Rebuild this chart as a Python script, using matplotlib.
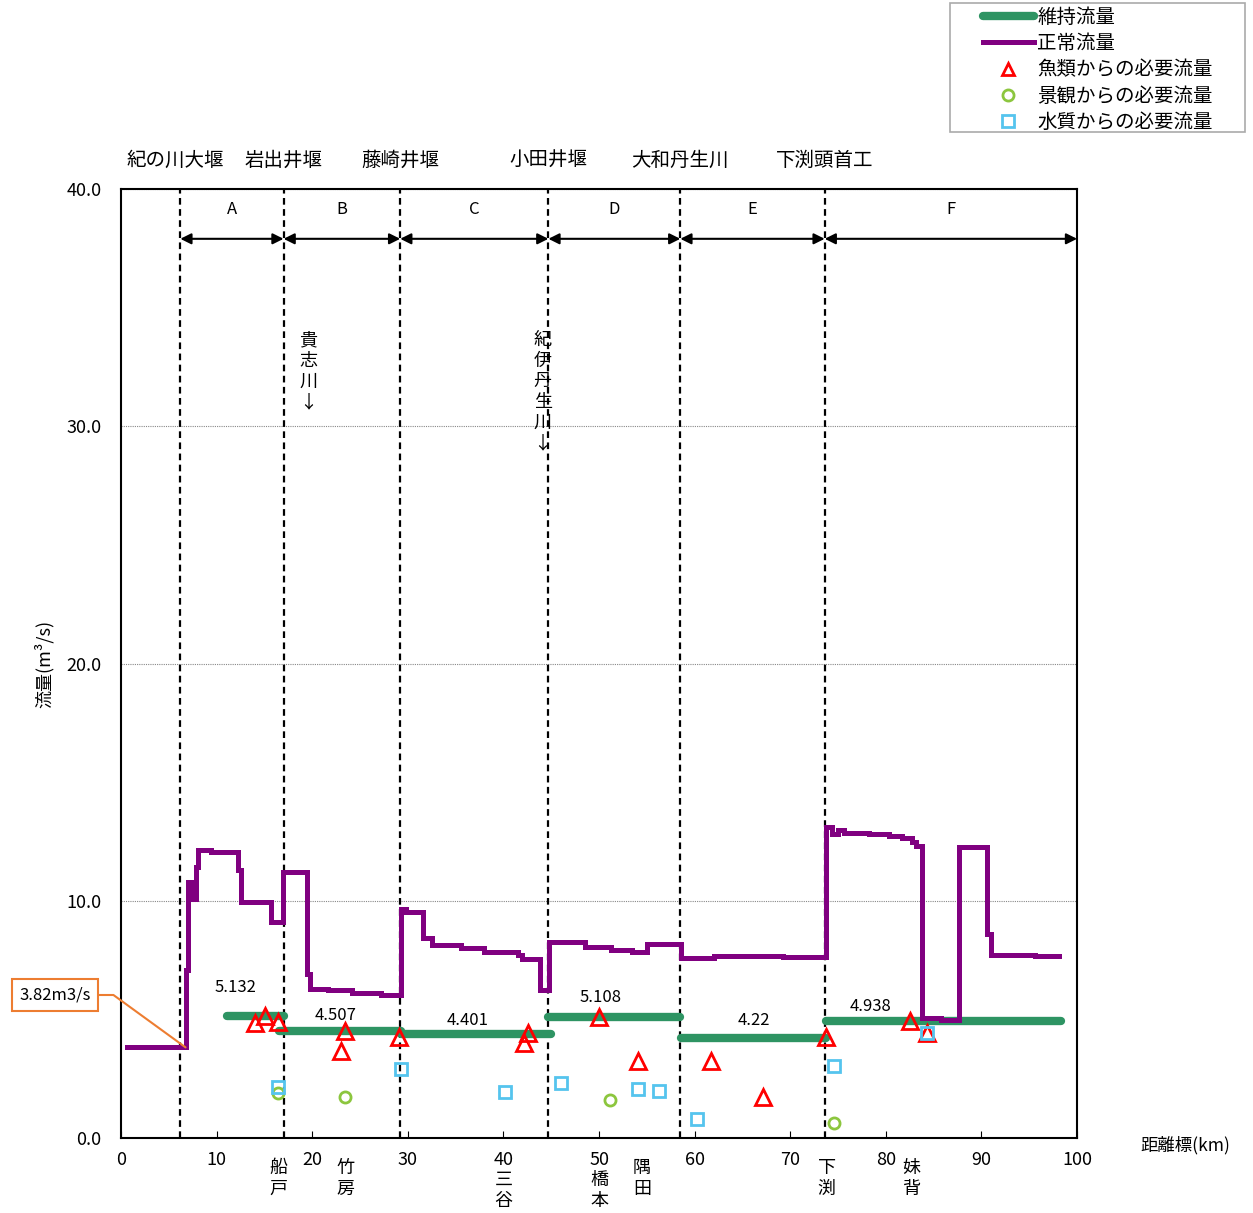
import numpy as np
import matplotlib
matplotlib.use("Agg")
import matplotlib.pyplot as plt
from matplotlib.lines import Line2D
from matplotlib.patches import Rectangle

plt.rcParams['font.family'] = ['Noto Sans CJK JP', 'DejaVu Sans']

# ---- data ----
# section boundaries (km) and weir names
bounds = [6.2, 17.0, 29.2, 44.7, 58.5, 73.6, 100.0]
weirs = ["紀の川大堰", "岩出井堰", "藤崎井堰", "小田井堰", "大和丹生川", "下渕頭首工"]
sections = ["A", "B", "C", "D", "E", "F"]

# 正常流量 (step line: start km of each step, value)
normal_x = [0.6, 6.8, 7.0, 7.35, 7.85, 8.03, 9.42, 12.2, 12.57, 15.7, 16.93,
            19.5, 19.8, 21.6, 24.2, 27.2, 29.3, 29.8, 31.6, 32.5, 35.6, 38.0,
            41.5, 41.9, 43.8, 44.8, 48.5, 51.2, 53.4, 55.0, 58.6, 62.0, 69.2,
            73.7, 74.35, 75.0, 75.6, 78.2, 80.3, 81.7, 82.7, 83.2, 83.8, 85.8,
            87.6, 90.6, 91.0, 95.6, 98.1]
normal_y = [3.82, 7.07, 10.79, 10.09, 11.42, 12.13, 12.06, 11.28, 9.95, 9.11, 11.21,
            6.93, 6.30, 6.22, 6.13, 6.04, 9.67, 9.53, 8.41, 8.13, 7.99, 7.85,
            7.70, 7.54, 6.23, 8.27, 8.06, 7.92, 7.82, 8.17, 7.57, 7.68, 7.62,
            13.1, 12.83, 12.97, 12.86, 12.80, 12.72, 12.65, 12.48, 12.29, 5.04, 4.97,
            12.27, 8.62, 7.70, 7.66, 7.66]

# 維持流量 per section
maint_start = [11.1, 16.5, 29.3, 44.7, 58.6, 73.7]
maint_end = [17.0, 29.3, 45.0, 58.5, 73.7, 98.3]
maint_val = [5.132, 4.507, 4.401, 5.108, 4.22, 4.938]
maint_lbl_x = [12.0, 22.4, 36.2, 50.2, 66.2, 78.4]
maint_lbl_y = [6.36, 5.18, 4.97, 5.94, 4.97, 5.56]

# 魚類からの必要流量
fish_x = [13.96, 15.08, 16.47, 23.46, 22.97, 29.04, 42.58, 42.16, 50.04,
          54.1, 61.75, 67.2, 73.77, 82.5, 84.3]
fish_y = [4.83, 5.15, 4.90, 4.52, 3.68, 4.27, 4.41, 3.99, 5.11,
          3.24, 3.24, 1.71, 4.24, 4.94, 4.41]
# 景観からの必要流量
scene_x = [16.47, 23.46, 51.1, 74.6]
scene_y = [1.91, 1.71, 1.60, 0.62]
# 水質からの必要流量
water_x = [16.47, 29.25, 40.2, 46.07, 54.1, 56.3, 60.2, 74.6, 84.3]
water_y = [2.13, 2.93, 1.92, 2.33, 2.08, 1.98, 0.80, 3.05, 4.41]

# station names under the axis
stations = ["船\n戸", "竹\n房", "隅\n田", "下\n渕", "妹\n背"]
station_x = [16.5, 23.5, 54.5, 73.8, 82.7]
xticks = list(range(0, 101, 10))
xticklabels = [str(v) for v in xticks]
xticklabels[4] = "40\n三\n谷"
xticklabels[5] = "50\n橋\n本"

# tributary notes
tribs = ["貴\n志\n川\n↓", "紀\n伊\n丹\n生\n川\n↓"]
trib_x = [19.6, 44.1]
trib_top = 34.0

GREEN = "#2e9463"
PURPLE = "#800080"

fig = plt.figure(figsize=(12.53, 12.13), dpi=100)
ax = fig.add_axes([0.0966, 0.0618, 0.763, 0.7824])

ax.set_xlim(0, 100)
ax.set_ylim(0, 40)

# grid
ax.set_yticks([0, 10, 20, 30, 40])
ax.set_yticklabels(["%.1f" % v for v in [0, 10, 20, 30, 40]])
ax.yaxis.grid(True, ls=(0, (1, 1)), color="#888888", lw=0.8)
ax.set_axisbelow(True)

# section dividers
for b in bounds[:-1]:
    ax.axvline(b, color="k", ls=(0, (3, 2)), lw=1.6, zorder=2)

# arrows and section letters
for i, s in enumerate(sections):
    x1, x2 = bounds[i], bounds[i + 1]
    ax.annotate("", xy=(x2, 37.9), xytext=(x1, 37.9),
                arrowprops=dict(arrowstyle="<|-|>", color="k", lw=1.5,
                                shrinkA=0, shrinkB=0, mutation_scale=16),
                annotation_clip=False)
    ax.text((x1 + x2) / 2, 39.15, s, ha="center", va="center", fontsize=12)

# weir names above the plot
for i, w in enumerate(weirs):
    xx = bounds[i] - (0.5 if i == 0 else 0)
    ax.text(xx, 41.2, w, ha="center", va="center", fontsize=14, clip_on=False)

# flows
ax.plot(normal_x, normal_y, drawstyle="steps-post", color=PURPLE, lw=3.6,
        zorder=4, solid_joinstyle="miter")
for s, e, v, lx, ly in zip(maint_start, maint_end, maint_val, maint_lbl_x, maint_lbl_y):
    ax.plot([s, e], [v, v], color=GREEN, lw=6, solid_capstyle="round", zorder=3)
    ax.text(lx, ly, "%g" % v, ha="center", va="center", fontsize=12)

ax.plot(fish_x, fish_y, ls="none", marker="^", ms=11, mfc="none", mec="#ff0000",
        mew=2, zorder=5)
ax.plot(scene_x, scene_y, ls="none", marker="o", ms=8, mfc="none", mec="#8cc63e",
        mew=2, zorder=5)
ax.plot(water_x, water_y, ls="none", marker="s", ms=8, mfc="none", mec="#55c4ee",
        mew=2, zorder=5)

# tributary notes
for t, tx in zip(tribs, trib_x):
    ax.text(tx, trib_top, t, ha="center", va="top", fontsize=13, linespacing=1.18)

# callout
ax.annotate("3.82m3/s", xy=(6.75, 3.82), xytext=(55, 218), textcoords="figure pixels",
            ha="center", va="center", fontsize=12,
            bbox=dict(boxstyle="square,pad=0.45", fc="white", ec="#ed7d31", lw=1.5),
            arrowprops=dict(arrowstyle="-", color="#ed7d31", lw=1.5,
                            connectionstyle="angle,angleA=0,angleB=-36,rad=0",
                            relpos=(1, 0.5), shrinkA=0, shrinkB=0),
            annotation_clip=False, zorder=6)

# axes styling
for sp in ax.spines.values():
    sp.set_linewidth(1.5)
ax.set_xticks(xticks)
ax.set_xticklabels(xticklabels, fontsize=13, linespacing=1.2, va="top")
ax.tick_params(axis="x", direction="in", length=5, pad=9)
ax.tick_params(axis="y", length=0, pad=14, labelsize=13)

trans = ax.get_xaxis_transform()
for s, sx in zip(stations, station_x):
    ax.text(sx, -0.022, s, transform=trans, ha="center", va="top", fontsize=13,
            linespacing=1.2)

ax.set_ylabel("流量(m³/s)", fontsize=13)
ax.yaxis.set_label_coords(-0.07, 0.5)
ax.text(1.113, -0.008, "距離標(km)", transform=ax.transAxes, ha="center",
        va="center", fontsize=12.5)

# legend
handles = [Line2D([], [], color=GREEN, lw=6, solid_capstyle="round"),
           Line2D([], [], color=PURPLE, lw=3.6),
           Line2D([], [], ls="none", marker="^", ms=9, mfc="none", mec="#ff0000", mew=2),
           Line2D([], [], ls="none", marker="o", ms=8, mfc="none", mec="#8cc63e", mew=2),
           Line2D([], [], ls="none", marker="s", ms=8, mfc="none", mec="#55c4ee", mew=2)]
labels = ["維持流量", "正常流量", "魚類からの必要流量", "景観からの必要流量", "水質からの必要流量"]
fig.patches.append(Rectangle((950 / 1253, 1 - 132 / 1213), 295 / 1253, 129 / 1213,
                             transform=fig.transFigure, fc="white", ec="#aaaaaa",
                             lw=1.2, zorder=0))
fig.legend(handles, labels, loc="upper left", bbox_to_anchor=(983 / 1253, 1 - 7 / 1213),
           frameon=False, fontsize=14, handlelength=2.6, handletextpad=0.2,
           labelspacing=0.27, borderpad=0, borderaxespad=0)

fig.savefig("out.png", dpi=100)
